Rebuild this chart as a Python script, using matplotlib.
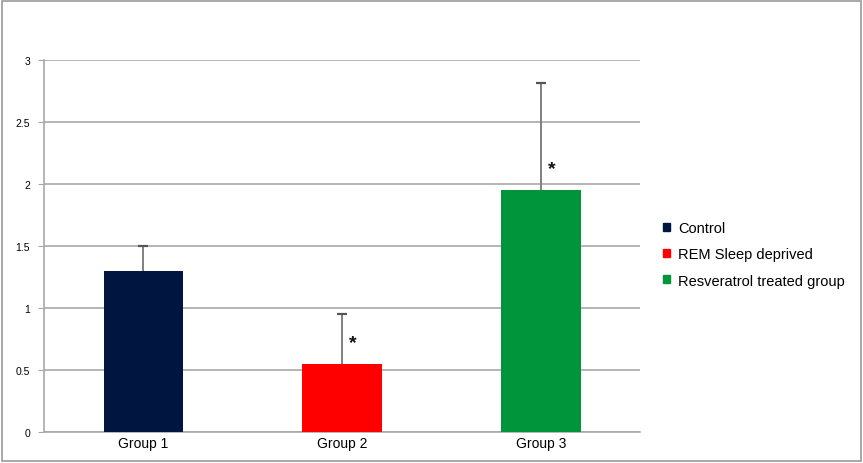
import numpy as np
import matplotlib.pyplot as plt
from matplotlib.patches import Rectangle

plt.rcParams['font.family'] = ['Liberation Sans', 'DejaVu Sans']

groups = ['Group 1', 'Group 2', 'Group 3']
labels = ['Control', 'REM Sleep deprived', 'Resveratrol treated group']
means = [1.3, 0.55, 1.95]
errs = [0.2, 0.4, 0.86]
stars = ['', '*', '*']
colors = ['#001540', '#ff0000', '#00953a']

fig = plt.figure(figsize=(8.63, 4.64), dpi=100)
fig.patches.append(Rectangle((0.002, 0.004), 0.996, 0.992, transform=fig.transFigure,
                             fill=False, edgecolor='#9a9a9a', linewidth=1.2))
ax = fig.add_axes([0.051, 0.067, 0.691, 0.802])

x = np.arange(len(groups))
bars = ax.bar(x, means, width=0.4, color=colors, zorder=3)
# upper-only error bars, cap at the top only
tops = np.array(means) + np.array(errs)
ax.vlines(x, means, tops, color='#808080', linewidth=1.4, zorder=2)
ax.plot(x, tops, ls='none', marker='_', markersize=7, mew=1.6, color='#555555', zorder=2)

for i in range(len(groups)):
    if stars[i]:
        ax.text(x[i] + 0.035, means[i] + 0.17, stars[i], fontsize=14, ha='left', va='center',
                color='#111111', fontweight='bold')

ax.set_xlim(-0.5, 2.5)
ax.set_ylim(0, 3)
ax.set_yticks([0, 0.5, 1, 1.5, 2, 2.5, 3])
ax.set_yticklabels(['0', '0.5', '1', '1.5', '2', '2.5', '3'])
ax.set_xticks(x)
ax.set_xticklabels(groups)
ax.yaxis.grid(True, color='#a8a8a8', linewidth=1.2, zorder=0)
ax.set_axisbelow(True)
for s in ['top', 'right']:
    ax.spines[s].set_visible(False)
ax.spines['left'].set_color('#a8a8a8')
ax.spines['left'].set_linewidth(1.2)
ax.spines['bottom'].set_color('#a8a8a8')
ax.spines['bottom'].set_linewidth(1.2)
ax.tick_params(axis='y', length=4, color='#a8a8a8', labelsize=7.5, pad=6)
ax.tick_params(axis='x', length=0, labelsize=10, pad=3)

handles = [Rectangle((0, 0), 1, 1, color=c) for c in colors]
fig.legend(handles, labels, loc='center left', bbox_to_anchor=(0.753, 0.45), frameon=False,
           fontsize=10.5, handlelength=0.45, handleheight=0.45, handletextpad=0.6, labelspacing=0.85)

fig.savefig('out.png', dpi=100)
